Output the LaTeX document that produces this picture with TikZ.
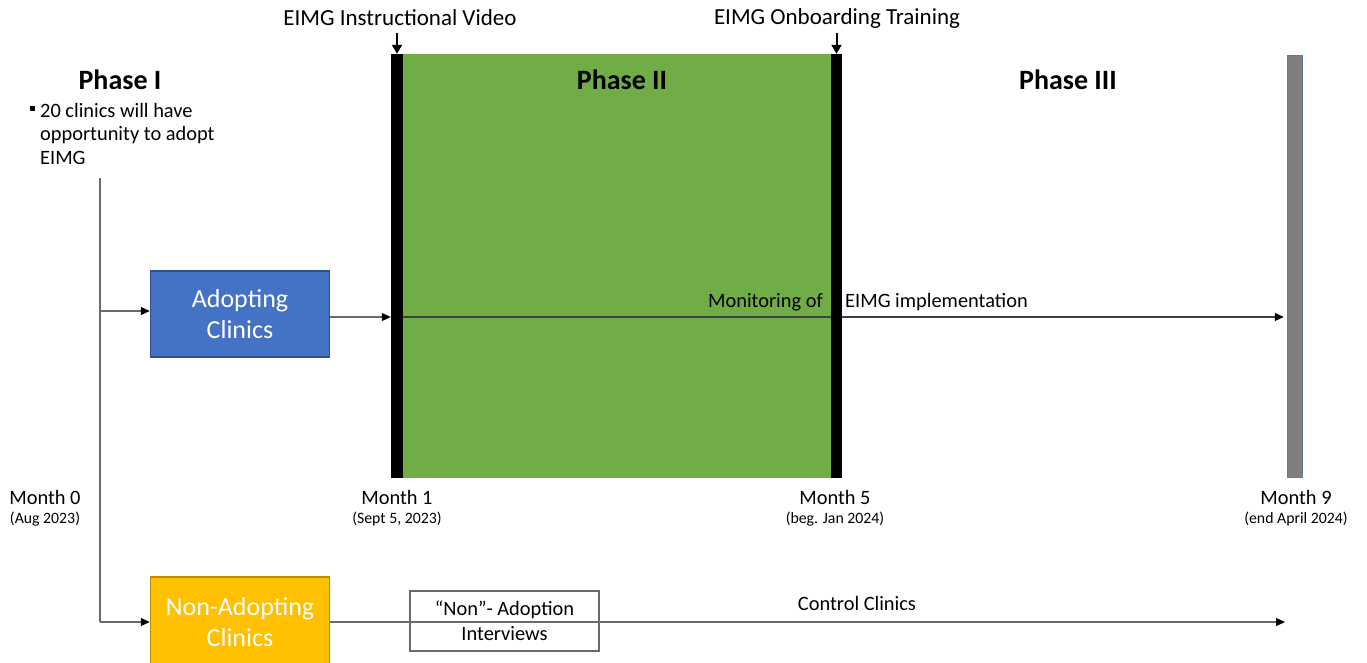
\documentclass[tikz,border=0pt]{standalone}
\usepackage{fontspec}
\setmainfont{Carlito}
\usetikzlibrary{arrows.meta}
\definecolor{adoptblue}{HTML}{4472C4}
\definecolor{adoptedge}{HTML}{2F528F}
\definecolor{nonyellow}{HTML}{FFC000}
\definecolor{nonedge}{HTML}{BC8C00}
\definecolor{phasegreen}{HTML}{70AD47}
\definecolor{endgray}{HTML}{7F7F7F}
\definecolor{endedge}{HTML}{5B7BA0}
\definecolor{linegray}{HTML}{6A6A6A}
\tikzset{
  phasetitle/.style={font=\fontsize{28}{32}\selectfont\bfseries, inner sep=0pt},
  bodytext/.style={font=\fontsize{20.4}{24}\selectfont, inner sep=0pt},
  toptext/.style={font=\fontsize{23}{27}\selectfont, inner sep=0pt},
  smalltext/.style={font=\fontsize{15.8}{19}\selectfont, inner sep=0pt},
  clinicbox/.style={draw, line width=1.5pt, minimum width=179pt, minimum height=86pt,
    text=white, align=center, font=\fontsize{26}{31}\selectfont, inner sep=0pt},
  bar/.style={inner sep=0pt, minimum height=424pt},
  conn/.style={draw=linegray, line width=1.1pt},
  arr/.style={conn, -{Triangle[length=9pt,width=8pt,fill=black,color=black]}},
  downarr/.style={draw=black, line width=2pt, -{Triangle[length=9pt,width=10pt]}},
}
\begin{document}
\begin{tikzpicture}[x=1pt,y=-1pt]
\useasboundingbox (0,0) rectangle (1367,662);

% Phase II block with event bars
\node[bar, fill=phasegreen, minimum width=428pt] (green) at (617,266) {};
\node[bar, fill=black, minimum width=12pt] (bar1) at (397,266) {};
\node[bar, fill=black, minimum width=11pt] (bar2) at (836.5,266) {};
\node[bar, fill=endgray, draw=endedge, line width=1.5pt, minimum width=15pt, minimum height=422pt] (bar3) at (1295,266.5) {};

% phase titles
\node[phasetitle] (ph1) at (120,80) {Phase I};
\node[phasetitle] (ph2) at (622,80) {Phase II};
\node[phasetitle] (ph3) at (1068,80) {Phase III};

% Phase I bullet
\node[fill=black, minimum size=5pt, inner sep=0pt] (bul) at (32,108) {};
\node[bodytext, anchor=north west, align=left, font=\fontsize{20.4}{23.5}\selectfont]
  (bultext) at (40,103) {20 clinics will have\\opportunity to adopt\\EIMG};

% events above the bars
\node[toptext] (video) at (400,18) {EIMG Instructional Video};
\node[toptext] (onboard) at (837,18) {EIMG Onboarding Training};
\coordinate (videotip) at (397,33);
\coordinate (onboardtip) at (836.5,33);
\draw[downarr] (videotip) -- (bar1.north);
\draw[downarr] (onboardtip) -- (bar2.north);

% clinic groups
\node[clinicbox, fill=adoptblue, draw=adoptedge] (adopt) at (240,314) {Adopting\\Clinics};
\node[clinicbox, fill=nonyellow, draw=nonedge, minimum height=90pt] (nonadopt) at (240,622) {Non-Adopting\\Clinics};
\node[draw=linegray, line width=1.2pt, minimum width=189pt, minimum height=60pt, inner sep=0pt,
  align=center, font=\fontsize{20.4}{25}\selectfont] (interv) at (504.5,621) {“Non”- Adoption\\Interviews};

% branching trunk
\coordinate (trunktop) at (100,178);
\coordinate (trunkmid) at (100,311);
\coordinate (trunkbot) at (100,622);
\draw[conn] (trunktop) -- (trunkbot);
\draw[arr] (trunkmid) -- (adopt.west |- trunkmid);
\draw[arr] (trunkbot) -- (nonadopt.west);

% monitoring line
\coordinate (monstart) at (330,317);
\draw[arr] (monstart) -- (bar1.west |- monstart);
\coordinate (monin) at (403,317);
\draw[arr, draw=black!75, shorten >=3pt] (monin) -- (bar3.west |- monin);
\node[bar, fill=black, minimum width=11pt] at (bar2) {};
\node[bodytext, anchor=base east] (mon1) at (823,307) {Monitoring of};
\node[bodytext, anchor=base west] (mon2) at (845,307) {EIMG implementation};

% control line
\coordinate (ctrlend) at (1285,622);
\draw[arr] (nonadopt.east) -- (ctrlend);
\node[bodytext] (ctrl) at (857,603) {Control Clinics};

% month markers
\node[bodytext] (m0) at (45,497) {Month 0};
\node[smalltext] (m0d) at (45,519) {(Aug 2023)};
\node[bodytext] (m1) at (397,497) {Month 1};
\node[smalltext] (m1d) at (397,519) {(Sept 5, 2023)};
\node[bodytext] (m5) at (835,497) {Month 5};
\node[smalltext] (m5d) at (835,519) {(beg. Jan 2024)};
\node[bodytext] (m9) at (1296,497) {Month 9};
\node[smalltext] (m9d) at (1296,519) {(end April 2024)};
\end{tikzpicture}
\end{document}
